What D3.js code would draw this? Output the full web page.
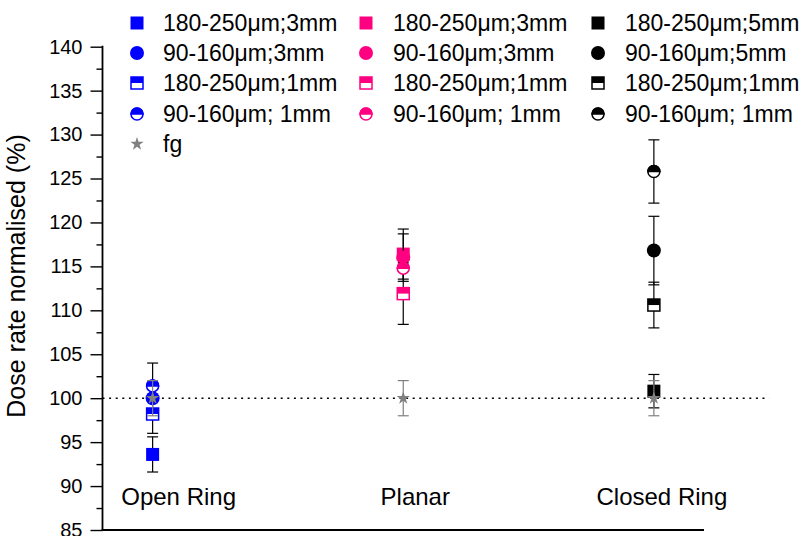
<!DOCTYPE html>
<html>
<head>
<meta charset="utf-8">
<script src="https://cdn.jsdelivr.net/npm/d3@7"></script>
<style>
  body { margin: 0; background: #fff; }
  svg { display: block; font-family: "Liberation Sans", Arial, sans-serif; }
</style>
</head>
<body>
<svg id="chart"></svg>
<script>
// data
const categories = ["Open Ring", "Planar", "Closed Ring"];
const seriesLabels = [
  ["180-250μm;3mm", "90-160μm;3mm", "180-250μm;1mm", "90-160μm; 1mm"],
  ["180-250μm;3mm", "90-160μm;3mm", "180-250μm;1mm", "90-160μm; 1mm"],
  ["180-250μm;5mm", "90-160μm;5mm", "180-250μm;1mm", "90-160μm; 1mm"]
];
const seriesShapes = ["square", "circle", "halfSquare", "halfCircle"];
const openRingValues = [93.6, 100.0, 98.2, 101.4];
const openRingErrors = [2.0, 4.0, 0.2, 0.3];
const planarValues = [116.4, 116.0, 111.9, 114.8];
const planarErrors = [2.85, 2.7, 3.5, 0.3];
const closedRingValues = [100.8, 116.8, 110.6, 125.8];
const closedRingErrors = [1.9, 3.9, 2.6, 3.6];
const fgLabel = "fg";
const fgValues = [100, 100, 100];
const fgErrors = [2, 2, 2];
const yTicks = [85, 90, 95, 100, 105, 110, 115, 120, 125, 130, 135, 140];
const refLine = 100;

const groupValues = [openRingValues, planarValues, closedRingValues];
const groupErrors = [openRingErrors, planarErrors, closedRingErrors];
const colors = ["#0000ff", "#ff0080", "#000000"];
const fgColor = "#808080";

const width = 799;
const height = 536;

const svg = d3.select("#chart")
  .attr("width", width)
  .attr("height", height);

const x = d3.scaleLinear()
  .domain([0.8, 3.2])
  .range([102.5, 704]);

const y = d3.scaleLinear()
  .domain([85, 140])
  .range([530, 46.7]);

// reference dotted line at 100%
svg.append("line")
  .attr("x1", x(0.8))
  .attr("x2", x(3.46))
  .attr("y1", y(refLine))
  .attr("y2", y(refLine))
  .attr("stroke", "#000")
  .attr("stroke-width", 1.5)
  .attr("stroke-dasharray", "2,4.6");

// axes
const yAxis = d3.axisLeft(y)
  .tickValues(yTicks)
  .tickSize(12)
  .tickPadding(8);

const yAxisG = svg.append("g")
  .attr("transform", "translate(" + x(0.8) + ",0)")
  .call(yAxis);

yAxisG.select(".domain").remove();
yAxisG.selectAll(".tick line").attr("stroke", "#000").attr("stroke-width", 1.4);
yAxisG.selectAll(".tick text")
  .attr("font-size", 20)
  .attr("font-family", "Liberation Sans, Arial, sans-serif")
  .attr("fill", "#000");

const minorAxis = d3.axisLeft(y)
  .tickValues(yTicks.slice(0, -1).map(t => t + 2.5))
  .tickSize(6)
  .tickFormat("");

const minorG = svg.append("g")
  .attr("transform", "translate(" + x(0.8) + ",0)")
  .call(minorAxis);
minorG.select(".domain").remove();
minorG.selectAll(".tick line").attr("stroke", "#000").attr("stroke-width", 1.4);

svg.append("line")
  .attr("x1", x(0.8)).attr("x2", x(0.8))
  .attr("y1", y(140) - 1).attr("y2", y(85))
  .attr("stroke", "#000").attr("stroke-width", 1.8);

svg.append("line")
  .attr("x1", x(0.8) - 1).attr("x2", x(3.2))
  .attr("y1", y(85)).attr("y2", y(85))
  .attr("stroke", "#000").attr("stroke-width", 1.8);

svg.append("text")
  .attr("transform", "translate(25," + 276 + ") rotate(-90)")
  .attr("text-anchor", "middle")
  .attr("font-size", 25)
  .text("Dose rate normalised (%)");

// category labels
const catNudge = [26, 12, 8];
svg.selectAll(".cat")
  .data(categories)
  .enter()
  .append("text")
  .attr("class", "cat")
  .attr("x", (d, i) => x(i + 1) + catNudge[i])
  .attr("y", 505)
  .attr("text-anchor", "middle")
  .attr("font-size", 24)
  .text(d => d);

// marker drawing
const drawMarker = (g, shape, color, cx, cy) => {
  if (shape === "square") {
    g.append("rect")
      .attr("x", cx - 6.5).attr("y", cy - 6.5)
      .attr("width", 13).attr("height", 13)
      .attr("fill", color);
  } else if (shape === "circle") {
    g.append("circle")
      .attr("cx", cx).attr("cy", cy).attr("r", 7)
      .attr("fill", color);
  } else if (shape === "halfSquare") {
    g.append("rect")
      .attr("x", cx - 6).attr("y", cy - 6)
      .attr("width", 12).attr("height", 12)
      .attr("fill", "#fff")
      .attr("stroke", color).attr("stroke-width", 1.5);
    g.append("rect")
      .attr("x", cx - 6).attr("y", cy - 6)
      .attr("width", 12).attr("height", 6)
      .attr("fill", color);
  } else if (shape === "halfCircle") {
    const r = 6;
    g.append("circle")
      .attr("cx", cx).attr("cy", cy).attr("r", r)
      .attr("fill", "#fff")
      .attr("stroke", color).attr("stroke-width", 1.5);
    g.append("path")
      .attr("d", "M" + (cx - r) + "," + cy + " A" + r + "," + r + " 0 0 1 " + (cx + r) + "," + cy + " Z")
      .attr("fill", color)
      .attr("stroke", color).attr("stroke-width", 1.5);
  } else if (shape === "star") {
    g.append("path")
      .attr("d", d3.symbol(d3.symbolStar, 55)())
      .attr("transform", "translate(" + cx + "," + cy + ")")
      .attr("fill", color);
  }
};

const drawErrorBar = (g, cx, v, err, color) => {
  const eb = g.append("g")
    .attr("stroke", color)
    .attr("stroke-width", 1.2);
  eb.append("line")
    .attr("x1", cx).attr("x2", cx)
    .attr("y1", y(v + err)).attr("y2", y(v - err));
  [v + err, v - err].forEach(t => {
    eb.append("line")
      .attr("x1", cx - 5.5).attr("x2", cx + 5.5)
      .attr("y1", y(t)).attr("y2", y(t));
  });
};

const plot = svg.append("g");

groupValues.forEach((vals, gi) => {
  vals.forEach((v, si) => {
    const cx = x(gi + 1);
    drawErrorBar(plot, cx, v, groupErrors[gi][si], "#000");
    drawMarker(plot, seriesShapes[si], colors[gi], cx, y(v));
  });
});

fgValues.forEach((v, gi) => {
  const cx = x(gi + 1);
  drawErrorBar(plot, cx, v, fgErrors[gi], fgColor);
  drawMarker(plot, "star", fgColor, cx, y(v));
});

// legend
const legendMarkerX = [137, 366, 598];
const legendTextX = [163, 393, 625];
const legendRowY = [23, 53, 83, 114, 144];
const legend = svg.append("g");

seriesLabels.forEach((labels, gi) => {
  labels.forEach((label, si) => {
    drawMarker(legend, seriesShapes[si], colors[gi], legendMarkerX[gi], legendRowY[si]);
    legend.append("text")
      .attr("x", legendTextX[gi])
      .attr("y", legendRowY[si] + 8)
      .attr("font-size", 23)
      .text(label);
  });
});

drawMarker(legend, "star", fgColor, legendMarkerX[0], legendRowY[4]);
legend.append("text")
  .attr("x", legendTextX[0])
  .attr("y", legendRowY[4] + 8)
  .attr("font-size", 23)
  .text(fgLabel);
</script>
</body>
</html>
